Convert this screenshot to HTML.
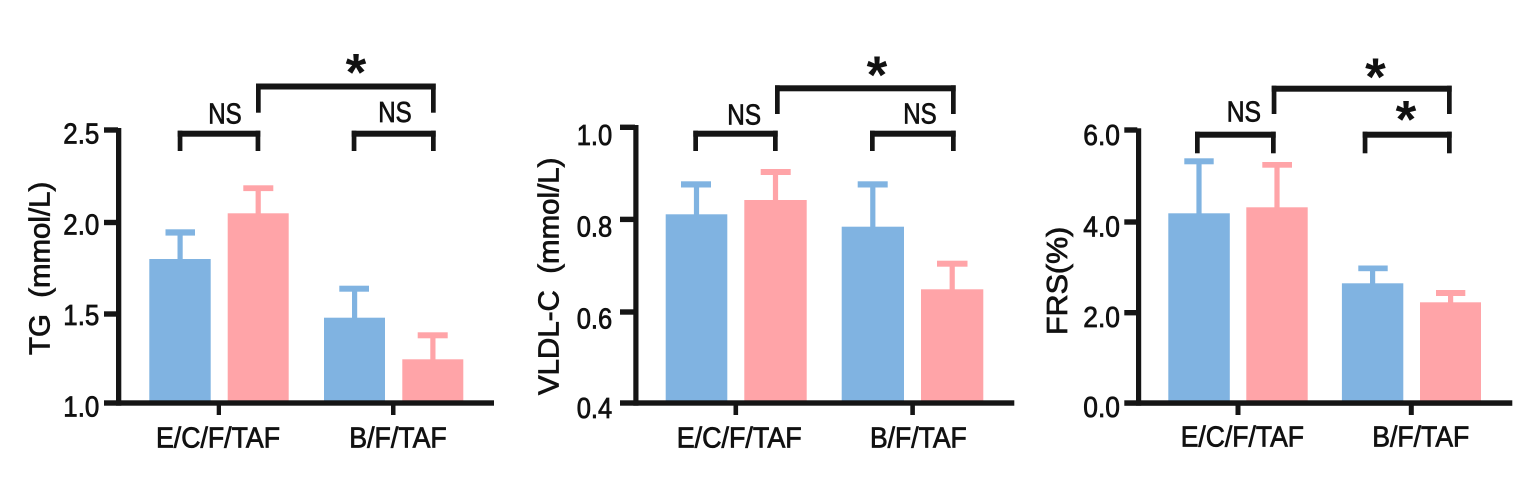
<!DOCTYPE html>
<html>
<head>
<meta charset="utf-8">
<style>
html,body{margin:0;padding:0;background:#fff;}
body{width:1526px;height:484px;overflow:hidden;position:relative;}
svg{position:absolute;left:0;top:0;}
text{font-family:"Liberation Sans",Arial,sans-serif;fill:#111;}
.t{font-size:28.5px;stroke:#111;stroke-width:0.75px;}
.ast{font-size:53px;font-weight:bold;text-anchor:middle;}
</style>
</head>
<body>
<svg width="1526" height="484" viewBox="0 0 1526 484" xmlns="http://www.w3.org/2000/svg">
<rect x="0" y="0" width="1526" height="484" fill="#fff"/>

<!-- ================= PANEL 1 ================= -->
<g>
  <rect x="149.3" y="259" width="61.4" height="142" fill="#80B3E1"/>
  <rect x="227.7" y="213.3" width="61" height="187.7" fill="#FFA4A8"/>
  <rect x="324" y="317.7" width="61" height="83.3" fill="#80B3E1"/>
  <rect x="402.3" y="359.3" width="61" height="41.7" fill="#FFA4A8"/>
  <rect x="177.5" y="232" width="5.2" height="28" fill="#80B3E1"/>
  <rect x="165.5" y="229.3" width="29.5" height="6.3" fill="#80B3E1"/>
  <rect x="255.6" y="188" width="5.2" height="26" fill="#FFA4A8"/>
  <rect x="243.3" y="185.3" width="30" height="5.8" fill="#FFA4A8"/>
  <rect x="352" y="288" width="5.2" height="30" fill="#80B3E1"/>
  <rect x="339.3" y="285.7" width="29.7" height="6" fill="#80B3E1"/>
  <rect x="430.3" y="335" width="5.2" height="25" fill="#FFA4A8"/>
  <rect x="417.7" y="332.3" width="30" height="6" fill="#FFA4A8"/>
  <rect x="116" y="128" width="5.3" height="277.7" fill="#151515"/>
  <rect x="104" y="400.3" width="390" height="5.4" fill="#151515"/>
  <rect x="104" y="127.3" width="14" height="5.4" fill="#151515"/>
  <rect x="104" y="219.8" width="14" height="5.4" fill="#151515"/>
  <rect x="104" y="311.3" width="14" height="5.4" fill="#151515"/>
  <rect x="216.7" y="403" width="4.3" height="12" fill="#151515"/>
  <rect x="391" y="403" width="4.5" height="12" fill="#151515"/>
  <text class="t" x="63.3" y="143.5" textLength="36" lengthAdjust="spacingAndGlyphs">2.5</text>
  <text class="t" x="63.3" y="234.3" textLength="36" lengthAdjust="spacingAndGlyphs">2.0</text>
  <text class="t" x="63.3" y="324.8" textLength="36" lengthAdjust="spacingAndGlyphs">1.5</text>
  <text class="t" x="63.3" y="416.7" textLength="36" lengthAdjust="spacingAndGlyphs">1.0</text>
  <text class="t" x="156" y="447.5" textLength="124" lengthAdjust="spacingAndGlyphs">E/C/F/TAF</text>
  <text class="t" x="349.3" y="447.5" textLength="97.4" lengthAdjust="spacingAndGlyphs">B/F/TAF</text>
  <text class="t" transform="translate(49.3,355) rotate(-90)" x="0" y="0" textLength="173.3" lengthAdjust="spacingAndGlyphs">TG&#160; (mmol/L)</text>
  <rect x="256" y="83.5" width="179.7" height="6" fill="#151515"/>
  <rect x="256" y="83.5" width="4.7" height="29.2" fill="#151515"/>
  <rect x="431" y="83.5" width="4.7" height="29.2" fill="#151515"/>
  <rect x="177.7" y="130.7" width="82.6" height="6" fill="#151515"/>
  <rect x="177.7" y="130.7" width="4.7" height="20.3" fill="#151515"/>
  <rect x="255.6" y="130.7" width="4.7" height="20.3" fill="#151515"/>
  <rect x="351.7" y="130.7" width="84" height="6" fill="#151515"/>
  <rect x="351.7" y="130.7" width="4.7" height="20.3" fill="#151515"/>
  <rect x="431" y="130.7" width="4.7" height="20.3" fill="#151515"/>
  <text class="t" x="208.3" y="123.3" textLength="33.4" lengthAdjust="spacingAndGlyphs">NS</text>
  <text class="t" x="378.3" y="122" textLength="33.4" lengthAdjust="spacingAndGlyphs">NS</text>
  <text class="ast" x="356" y="90.5">*</text>
</g>

<!-- ================= PANEL 2 ================= -->
<g>
  <rect x="665.7" y="214.3" width="61.6" height="186.7" fill="#80B3E1"/>
  <rect x="744.3" y="200" width="62.4" height="201" fill="#FFA4A8"/>
  <rect x="841.7" y="226.7" width="62.3" height="174.3" fill="#80B3E1"/>
  <rect x="921" y="289.3" width="62.3" height="111.7" fill="#FFA4A8"/>
  <rect x="693.9" y="184" width="5.2" height="31" fill="#80B3E1"/>
  <rect x="681" y="181.3" width="30" height="6.2" fill="#80B3E1"/>
  <rect x="772.9" y="172" width="5.2" height="29" fill="#FFA4A8"/>
  <rect x="760.7" y="169" width="30" height="6" fill="#FFA4A8"/>
  <rect x="870.2" y="184" width="5.2" height="43" fill="#80B3E1"/>
  <rect x="857.7" y="181.3" width="30" height="6.2" fill="#80B3E1"/>
  <rect x="949.6" y="263" width="5.2" height="27" fill="#FFA4A8"/>
  <rect x="937" y="260.7" width="30.5" height="6" fill="#FFA4A8"/>
  <rect x="633.3" y="125" width="5.2" height="280.7" fill="#151515"/>
  <rect x="620" y="400.3" width="394.3" height="5.4" fill="#151515"/>
  <rect x="620" y="124.6" width="15" height="5.4" fill="#151515"/>
  <rect x="620" y="216.7" width="15" height="5.4" fill="#151515"/>
  <rect x="620" y="309.3" width="15" height="5.4" fill="#151515"/>
  <rect x="733.5" y="403" width="4.6" height="12" fill="#151515"/>
  <rect x="910.3" y="403" width="4.6" height="12" fill="#151515"/>
  <text class="t" x="576.7" y="145" textLength="35.5" lengthAdjust="spacingAndGlyphs">1.0</text>
  <text class="t" x="576.7" y="236.5" textLength="35.5" lengthAdjust="spacingAndGlyphs">0.8</text>
  <text class="t" x="576.7" y="328.5" textLength="35.5" lengthAdjust="spacingAndGlyphs">0.6</text>
  <text class="t" x="576.7" y="418" textLength="35.5" lengthAdjust="spacingAndGlyphs">0.4</text>
  <text class="t" x="676.7" y="447.5" textLength="125" lengthAdjust="spacingAndGlyphs">E/C/F/TAF</text>
  <text class="t" x="870" y="447.5" textLength="96.7" lengthAdjust="spacingAndGlyphs">B/F/TAF</text>
  <text class="t" transform="translate(558.3,395) rotate(-90)" x="0" y="0" textLength="237.5" lengthAdjust="spacingAndGlyphs">VLDL-C&#160; (mmol/L)</text>
  <rect x="775" y="85.3" width="180.7" height="6" fill="#151515"/>
  <rect x="775" y="85.3" width="4.7" height="28.7" fill="#151515"/>
  <rect x="951" y="85.3" width="4.7" height="28.7" fill="#151515"/>
  <rect x="693.3" y="130.7" width="84.4" height="6" fill="#151515"/>
  <rect x="693.3" y="130.7" width="4.7" height="20.3" fill="#151515"/>
  <rect x="773" y="130.7" width="4.7" height="20.3" fill="#151515"/>
  <rect x="870" y="130.7" width="85.7" height="6" fill="#151515"/>
  <rect x="870" y="130.7" width="4.7" height="20.3" fill="#151515"/>
  <rect x="951" y="130.7" width="4.7" height="20.3" fill="#151515"/>
  <text class="t" x="727.3" y="124.5" textLength="33.7" lengthAdjust="spacingAndGlyphs">NS</text>
  <text class="t" x="903.3" y="123.3" textLength="33.4" lengthAdjust="spacingAndGlyphs">NS</text>
  <text class="ast" x="877" y="92.8">*</text>
</g>

<!-- ================= PANEL 3 ================= -->
<g>
  <rect x="1168.3" y="213.3" width="61.5" height="187.7" fill="#80B3E1"/>
  <rect x="1246.3" y="207.3" width="61.4" height="193.7" fill="#FFA4A8"/>
  <rect x="1341.9" y="283.3" width="61.4" height="117.7" fill="#80B3E1"/>
  <rect x="1420" y="302.3" width="61" height="98.7" fill="#FFA4A8"/>
  <rect x="1196.4" y="161" width="5.2" height="53" fill="#80B3E1"/>
  <rect x="1184.3" y="158.3" width="29.4" height="6" fill="#80B3E1"/>
  <rect x="1274.4" y="165" width="5.2" height="43" fill="#FFA4A8"/>
  <rect x="1262.3" y="162" width="29.7" height="5.7" fill="#FFA4A8"/>
  <rect x="1370" y="268" width="5.2" height="16" fill="#80B3E1"/>
  <rect x="1358.3" y="265.5" width="29.4" height="5.7" fill="#80B3E1"/>
  <rect x="1448" y="292" width="5.2" height="11" fill="#FFA4A8"/>
  <rect x="1436" y="290" width="29.3" height="6" fill="#FFA4A8"/>
  <rect x="1136" y="128.3" width="5.2" height="277.4" fill="#151515"/>
  <rect x="1124.3" y="400.3" width="388" height="5.5" fill="#151515"/>
  <rect x="1124.3" y="127.3" width="13" height="5.4" fill="#151515"/>
  <rect x="1124.3" y="219.3" width="13" height="5.4" fill="#151515"/>
  <rect x="1124.3" y="310" width="13" height="5.4" fill="#151515"/>
  <rect x="1235.5" y="403" width="5" height="12" fill="#151515"/>
  <rect x="1408.8" y="403" width="5" height="12" fill="#151515"/>
  <text class="t" x="1083.3" y="145" textLength="36.7" lengthAdjust="spacingAndGlyphs">6.0</text>
  <text class="t" x="1083.3" y="236.7" textLength="36.7" lengthAdjust="spacingAndGlyphs">4.0</text>
  <text class="t" x="1083.3" y="327" textLength="36.7" lengthAdjust="spacingAndGlyphs">2.0</text>
  <text class="t" x="1083.3" y="417" textLength="36.7" lengthAdjust="spacingAndGlyphs">0.0</text>
  <text class="t" x="1180.7" y="446.7" textLength="123.3" lengthAdjust="spacingAndGlyphs">E/C/F/TAF</text>
  <text class="t" x="1372.3" y="446.7" textLength="97" lengthAdjust="spacingAndGlyphs">B/F/TAF</text>
  <text class="t" transform="translate(1067,335) rotate(-90)" x="0" y="0" textLength="108.3" lengthAdjust="spacingAndGlyphs">FRS(%)</text>
  <rect x="1271.7" y="85.7" width="180" height="6" fill="#151515"/>
  <rect x="1271.7" y="85.7" width="4.7" height="28.3" fill="#151515"/>
  <rect x="1447" y="85.7" width="4.7" height="28.3" fill="#151515"/>
  <rect x="1195" y="131.7" width="80.7" height="6" fill="#151515"/>
  <rect x="1195" y="131.7" width="4.7" height="21.6" fill="#151515"/>
  <rect x="1271" y="131.7" width="4.7" height="21.6" fill="#151515"/>
  <rect x="1362.7" y="131.7" width="89" height="6" fill="#151515"/>
  <rect x="1362.7" y="131.7" width="4.7" height="21.6" fill="#151515"/>
  <rect x="1447" y="131.7" width="4.7" height="21.6" fill="#151515"/>
  <text class="t" x="1226.7" y="121.7" textLength="34.3" lengthAdjust="spacingAndGlyphs">NS</text>
  <text class="ast" x="1375.5" y="95">*</text>
  <text class="ast" x="1406" y="137.7">*</text>
</g>
</svg>
</body>
</html>
